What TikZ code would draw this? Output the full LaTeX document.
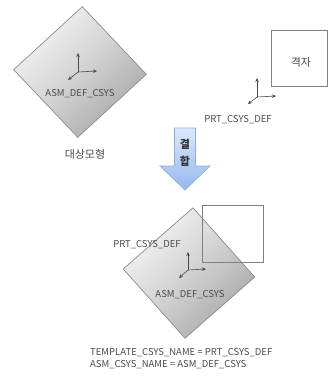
\documentclass[tikz,border=0pt]{standalone}
\usepackage{fontspec}
\setmainfont{Noto Sans CJK KR}
\usetikzlibrary{shapes.geometric,arrows.meta}
\definecolor{txt}{HTML}{4A4A4A}
\definecolor{edge}{HTML}{8C8C8C}
\definecolor{boxedge}{HTML}{808080}
\definecolor{dlight}{HTML}{F4F4F4}
\definecolor{dmid}{HTML}{D2D2D2}
\definecolor{ddark}{HTML}{A8A8A8}
\definecolor{blight}{HTML}{DCE8FA}
\definecolor{bdark}{HTML}{96B8EE}
\definecolor{bedge}{HTML}{8EAEDC}
\tikzset{
  dia/.style={diamond, draw=edge, line width=0.7pt, inner sep=0pt,
    top color=dlight, bottom color=ddark, middle color=dmid, shading angle=45},
  lbl/.style={text=txt, font=\fontsize{9.5}{11}\selectfont, inner sep=0pt},
  klbl/.style={text=txt, font=\fontsize{11}{13}\selectfont, inner sep=0pt},
  frame/.style={draw=boxedge, line width=0.7pt, inner sep=0pt},
  ax/.style={draw=txt, line width=0.6pt, -{Stealth[length=4pt,width=3.5pt]}},
}
\begin{document}
\begin{tikzpicture}[x=1pt,y=1pt]
\useasboundingbox (0,0) rectangle (328,-376);
% top diamond
\node[dia, minimum width=133pt, minimum height=131pt, rotate=-2] (topD) at (80,-72) {};
\coordinate (o1) at (78,-72);
\coordinate (o1u) at (78,-53);
\coordinate (o1r) at (97,-71);
\coordinate (o1d) at (68,-80);
\draw[ax] (o1) -- (o1u);
\draw[ax] (o1) -- (o1r);
\draw[ax] (o1) -- (o1d);
\node[lbl] (asm1) at (80,-94) {ASM\_DEF\_CSYS};
\node[klbl] (model) at (85,-154) {대상모형};
% grid box
\node[frame, minimum width=56pt, minimum height=56pt] (grid) at (299,-58) {};
\node[klbl] (gridtxt) at (301,-62) {격자};
\coordinate (o2) at (257,-97);
\coordinate (o2u) at (257,-78);
\coordinate (o2r) at (276,-96);
\coordinate (o2d) at (248,-104);
\draw[ax] (o2) -- (o2u);
\draw[ax] (o2) -- (o2r);
\draw[ax] (o2) -- (o2d);
\node[lbl] (prt1) at (238,-120) {PRT\_CSYS\_DEF};
% block arrow
\draw[bedge, line width=0.7pt, top color=blight, bottom color=bdark]
  (174.5,-128) -- (195.5,-128) -- (195.5,-166) -- (210,-166) -- (185,-190)
  -- (160,-166) -- (174.5,-166) -- cycle;
\node[text=black!80, font=\fontsize{11}{13}\selectfont\bfseries, inner sep=0pt] (k1) at (185,-144) {결};
\node[text=black!80, font=\fontsize{11}{13}\selectfont\bfseries, inner sep=0pt] (k2) at (185,-161) {합};
% bottom diamond
\node[dia, minimum width=132pt, minimum height=131pt, rotate=-3.5] (botD) at (189,-273) {};
\node[frame, minimum width=61pt, minimum height=57pt] (sq) at (232.5,-233.5) {};
\node[lbl] (prt2) at (147,-245) {PRT\_CSYS\_DEF};
\coordinate (o3) at (188,-270);
\coordinate (o3u) at (188,-252);
\coordinate (o3r) at (206,-269);
\coordinate (o3d) at (179,-278);
\draw[ax] (o3) -- (o3u);
\draw[ax] (o3) -- (o3r);
\draw[ax] (o3) -- (o3d);
\node[lbl] (asm2) at (190,-295) {ASM\_DEF\_CSYS};
\node[lbl, anchor=west] (eq1) at (90,-353) {TEMPLATE\_CSYS\_NAME = PRT\_CSYS\_DEF};
\node[lbl, anchor=west] (eq2) at (90,-365) {ASM\_CSYS\_NAME = ASM\_DEF\_CSYS};
\end{tikzpicture}
\end{document}
